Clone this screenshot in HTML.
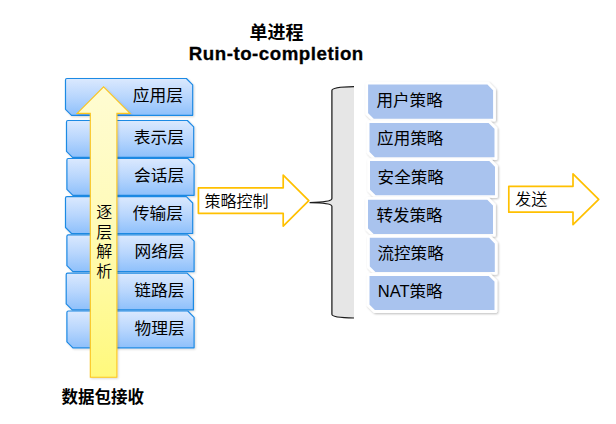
<!DOCTYPE html>
<html lang="zh-CN">
<head>
<meta charset="utf-8">
<title>单进程 Run-to-completion</title>
<style>
html,body{margin:0;padding:0;background:#fff;}
body{width:616px;height:424px;overflow:hidden;position:relative;font-family:'Liberation Sans', 'Noto Sans CJK SC', sans-serif;}
svg{position:absolute;left:0;top:0;display:block;}
text{font-family:'Liberation Sans', 'Noto Sans CJK SC', sans-serif;fill:#000;}
.t16{font-size:16px;}
.t158{font-size:15.8px;}
.b{font-weight:700;}
.lt{font-weight:350;}
</style>
</head>
<body>
<svg width="616" height="424" viewBox="0 0 616 424">
<defs>
<linearGradient id="gb" x1="0" y1="0" x2="0" y2="1">
<stop offset="0" stop-color="#dbe9fe"/>
<stop offset="0.5" stop-color="#b8d6fd"/>
<stop offset="1" stop-color="#8ec0fb"/>
</linearGradient>
<linearGradient id="gy" x1="0" y1="0" x2="0" y2="1">
<stop offset="0" stop-color="#fffcd2"/>
<stop offset="0.45" stop-color="#fffbba"/>
<stop offset="1" stop-color="#fff97c"/>
</linearGradient>
<filter id="sh" x="-5%" y="-10%" width="112%" height="130%">
<feGaussianBlur in="SourceAlpha" stdDeviation="0.8"/>
<feOffset dx="0.7" dy="0.9" result="o"/>
<feComponentTransfer><feFuncA type="linear" slope="0.16"/></feComponentTransfer>
<feMerge><feMergeNode/><feMergeNode in="SourceGraphic"/></feMerge>
</filter>
<filter id="sh2" x="-5%" y="-10%" width="112%" height="130%">
<feGaussianBlur in="SourceAlpha" stdDeviation="0.9"/>
<feOffset dx="0.5" dy="0.8"/>
<feComponentTransfer><feFuncA type="linear" slope="0.26"/></feComponentTransfer>
<feMerge><feMergeNode/><feMergeNode in="SourceGraphic"/></feMerge>
</filter>
</defs>

<text x="276.5" y="39" text-anchor="middle" class="b" style="font-size:18px">单进程</text>
<text x="276" y="59.5" text-anchor="middle" class="b" style="font-size:18.7px" textLength="174.5" lengthAdjust="spacing" stroke="#000" stroke-width="0.3">Run-to-completion</text>
<path d="M65.5,79.9 Q65.5,78.5 66.9,78.5 L186.4,78.5 L192.7,84.8 L192.7,115.3 L71.5,115.3 L65.5,109.3 Z" fill="url(#gb)" stroke="#1f8ae4" stroke-width="1.2" stroke-linejoin="round" filter="url(#sh)"/>
<text transform="translate(182.9,101.2) scale(1.06,1)" text-anchor="end" class="t158">应用层</text>
<path d="M66.5,121.9 Q66.5,120.5 67.9,120.5 L187.4,120.5 L193.7,126.8 L193.7,157.3 L72.5,157.3 L66.5,151.3 Z" fill="url(#gb)" stroke="#1f8ae4" stroke-width="1.2" stroke-linejoin="round" filter="url(#sh)"/>
<text transform="translate(183.9,143.3) scale(1.06,1)" text-anchor="end" class="t158">表示层</text>
<path d="M66.9,159.9 Q66.9,158.5 68.3,158.5 L187.8,158.5 L194.1,164.8 L194.1,195.3 L72.9,195.3 L66.9,189.3 Z" fill="url(#gb)" stroke="#1f8ae4" stroke-width="1.2" stroke-linejoin="round" filter="url(#sh)"/>
<text transform="translate(184.3,180.5) scale(1.06,1)" text-anchor="end" class="t158">会话层</text>
<path d="M65.5,198.1 Q65.5,196.7 66.9,196.7 L186.4,196.7 L192.7,203 L192.7,233.5 L71.5,233.5 L65.5,227.5 Z" fill="url(#gb)" stroke="#1f8ae4" stroke-width="1.2" stroke-linejoin="round" filter="url(#sh)"/>
<text transform="translate(182.9,219.4) scale(1.06,1)" text-anchor="end" class="t158">传输层</text>
<path d="M66.9,236.2 Q66.9,234.8 68.3,234.8 L187.8,234.8 L194.1,241.1 L194.1,271.6 L72.9,271.6 L66.9,265.6 Z" fill="url(#gb)" stroke="#1f8ae4" stroke-width="1.2" stroke-linejoin="round" filter="url(#sh)"/>
<text transform="translate(184.6,257.3) scale(1.06,1)" text-anchor="end" class="t158">网络层</text>
<path d="M66.2,274.5 Q66.2,273.1 67.6,273.1 L187.1,273.1 L193.4,279.4 L193.4,309.9 L72.2,309.9 L66.2,303.9 Z" fill="url(#gb)" stroke="#1f8ae4" stroke-width="1.2" stroke-linejoin="round" filter="url(#sh)"/>
<text transform="translate(184.4,296.3) scale(1.06,1)" text-anchor="end" class="t158">链路层</text>
<path d="M66.9,312.4 Q66.9,311 68.3,311 L187.8,311 L194.1,317.3 L194.1,347.8 L72.9,347.8 L66.9,341.8 Z" fill="url(#gb)" stroke="#1f8ae4" stroke-width="1.2" stroke-linejoin="round" filter="url(#sh)"/>
<text transform="translate(184.7,333.7) scale(1.06,1)" text-anchor="end" class="t158">物理层</text>
<path d="M103.6,86.9 L130.1,113.4 L116.9,113.4 L116.9,377.2 L90.3,377.2 L90.3,113.4 L77.1,113.4 Z" fill="url(#gy)" stroke="#fdc51c" stroke-width="1.1" stroke-linejoin="miter" filter="url(#sh)"/>
<text text-anchor="middle" class="t16 lt"><tspan x="104.2" y="218.4">逐</tspan><tspan x="104.2" y="237.9">层</tspan><tspan x="104.2" y="257.4">解</tspan><tspan x="104.2" y="276.9">析</tspan></text>
<text x="61.4" y="402.8" class="b" style="font-size:16.5px">数据包接收</text>
<path d="M198.4,187.8 L283.2,187.8 L283.2,175.1 L308.8,200.6 L283.2,226.1 L283.2,213.3 L198.4,213.3 Z" fill="#fff" stroke="#ffc000" stroke-width="1.7" stroke-linejoin="round"/>
<text x="204.5" y="207" class="t16 lt">策略控制</text>
<path d="M354,86.6 C342,86.8 331.9,88 331.9,90.4 L331.9,198.6 C331.9,201.1 322,202.4 309.6,202.6 C322,202.8 331.9,204.1 331.9,206.3 L331.9,314.2 C331.9,316.6 342,317.8 354,318 Z" fill="#e6e6e6" stroke="none"/>
<path d="M354,86.6 C342,86.8 331.9,88 331.9,90.4 L331.9,198.6 C331.9,201.1 322,202.4 309.6,202.6 C322,202.8 331.9,204.1 331.9,206.3 L331.9,314.2 C331.9,316.6 342,317.8 354,318" fill="none" stroke="#1c1c1c" stroke-width="1.25"/>
<path d="M366.7,84.5 Q366.7,83.1 368.1,83.1 L487.9,83.1 L494.5,89.7 L494.5,120.1 L373,120.1 L366.7,113.8 Z" fill="#a9c3ee" stroke="#fff" stroke-width="2.8" stroke-linejoin="round" filter="url(#sh2)"/>
<text transform="translate(376.5,105.7) scale(1.035,1)" class="t16">用户策略</text>
<path d="M368.1,123.1 Q368.1,121.7 369.5,121.7 L489.3,121.7 L495.9,128.3 L495.9,158.7 L374.4,158.7 L368.1,152.4 Z" fill="#a9c3ee" stroke="#fff" stroke-width="2.8" stroke-linejoin="round" filter="url(#sh2)"/>
<text transform="translate(377.1,144.3) scale(1.035,1)" class="t16">应用策略</text>
<path d="M368.6,161 Q368.6,159.6 370,159.6 L489.8,159.6 L496.4,166.2 L496.4,196.6 L374.9,196.6 L368.6,190.3 Z" fill="#a9c3ee" stroke="#fff" stroke-width="2.8" stroke-linejoin="round" filter="url(#sh2)"/>
<text transform="translate(377.6,182.5) scale(1.035,1)" class="t16">安全策略</text>
<path d="M366.6,199.7 Q366.6,198.3 368,198.3 L487.8,198.3 L494.4,204.9 L494.4,235.3 L372.9,235.3 L366.6,229 Z" fill="#a9c3ee" stroke="#fff" stroke-width="2.8" stroke-linejoin="round" filter="url(#sh2)"/>
<text transform="translate(376.4,221.1) scale(1.035,1)" class="t16">转发策略</text>
<path d="M368.4,237.7 Q368.4,236.3 369.8,236.3 L489.6,236.3 L496.2,242.9 L496.2,273.3 L374.7,273.3 L368.4,267 Z" fill="#a9c3ee" stroke="#fff" stroke-width="2.8" stroke-linejoin="round" filter="url(#sh2)"/>
<text transform="translate(377.5,259.0) scale(1.035,1)" class="t16">流控策略</text>
<path d="M368.1,275.9 Q368.1,274.5 369.5,274.5 L489.3,274.5 L495.9,281.1 L495.9,311.5 L374.4,311.5 L368.1,305.2 Z" fill="#a9c3ee" stroke="#fff" stroke-width="2.8" stroke-linejoin="round" filter="url(#sh2)"/>
<text transform="translate(377.7,297.1) scale(1.035,1)" class="t16">NAT策略</text>
<path d="M508.8,186.3 L573,186.3 L573,173.9 L598.7,199.3 L573,224.7 L573,212.2 L508.8,212.2 Z" fill="#fff" stroke="#ffc000" stroke-width="1.7" stroke-linejoin="round"/>
<text x="515.3" y="205" class="t16 lt">发送</text>
</svg>
</body>
</html>
